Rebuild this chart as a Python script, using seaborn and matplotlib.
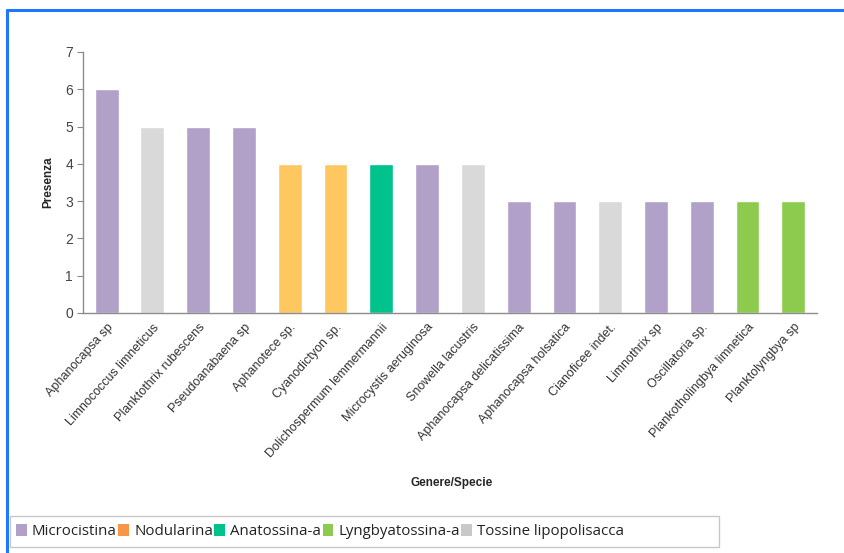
import pandas as pd
import matplotlib.pyplot as plt
import seaborn as sns
from matplotlib.patches import Patch, Rectangle
from matplotlib.lines import Line2D

# Dati
specie = ['Aphanocapsa sp', 'Limnococcus limneticus', 'Planktothrix rubescens',
          'Pseudoanabaena sp', 'Aphanotece sp.', 'Cyanodictyon sp.',
          'Dolichospermum lemmermannii', 'Microcystis aeruginosa', 'Snowella lacustris',
          'Aphanocapsa delicatissima', 'Aphanocapsa holsatica', 'Cianoficee indet.',
          'Limnothrix sp', 'Oscillatoria sp.', 'Plankotholingbya limnetica',
          'Planktolyngbya sp']
presenza = [6, 5, 5, 5, 4, 4, 4, 4, 4, 3, 3, 3, 3, 3, 3, 3]
tossina = ['Microcistina', 'Tossine lipopolisacca', 'Microcistina', 'Microcistina',
           'Nodularina', 'Nodularina', 'Anatossina-a', 'Microcistina',
           'Tossine lipopolisacca', 'Microcistina', 'Microcistina',
           'Tossine lipopolisacca', 'Microcistina', 'Microcistina',
           'Lyngbyatossina-a', 'Lyngbyatossina-a']
legenda = ['Microcistina', 'Nodularina', 'Anatossina-a', 'Lyngbyatossina-a',
           'Tossine lipopolisacca']

colori_barre = {'Microcistina': '#B1A0C7', 'Nodularina': '#FFC75F',
                'Anatossina-a': '#00C28C', 'Lyngbyatossina-a': '#8DCB4E',
                'Tossine lipopolisacca': '#D9D9D9'}
colori_legenda = {'Microcistina': '#B1A0C7', 'Nodularina': '#F79646',
                  'Anatossina-a': '#00C28C', 'Lyngbyatossina-a': '#8DCB4E',
                  'Tossine lipopolisacca': '#C8C8C8'}

df = pd.DataFrame({'Specie': specie, 'Presenza': presenza, 'Tossina': tossina})

sns.set_style('white')
plt.rcParams['font.family'] = ['Liberation Sans', 'DejaVu Sans']

fig = plt.figure(figsize=(8.45, 5.53), dpi=100)
ax = fig.add_axes([0.098, 0.434, 0.869, 0.472])

sns.barplot(data=df, x='Specie', y='Presenza', hue='Tossina', palette=colori_barre,
            dodge=False, width=0.52, legend=False, ax=ax, saturation=1)

ax.set_ylim(0, 7)
ax.set_yticks(range(0, 8))
ax.set_xlim(-0.52, len(specie) - 0.48)
ax.tick_params(axis='y', labelsize=10, labelcolor='#444444', length=4,
               color='#888888', direction='out', left=True, pad=3)
ax.tick_params(axis='x', length=0, pad=6)
ax.set_xticks(range(len(specie)))
ax.set_xticklabels(specie, rotation=48, ha='right', rotation_mode='anchor',
                   fontsize=9, color='#333333')
for s in ['top', 'right']:
    ax.spines[s].set_visible(False)
for s in ['left', 'bottom']:
    ax.spines[s].set_color('#8C8C8C')
    ax.spines[s].set_linewidth(1)

ax.set_ylabel('Presenza', fontsize=8.5, fontweight='bold', labelpad=8)
ax.set_xlabel('')
fig.text(0.535, 0.127, 'Genere/Specie', fontsize=8.5, fontweight='bold',
         ha='center', va='center')

# Cornice blu
fig.add_artist(Line2D([0.008, 0.008], [0, 0.982], color='#1E78FF', lw=2.2))
fig.add_artist(Line2D([0.008, 1.0], [0.982, 0.982], color='#1E78FF', lw=2.2))

# Riquadro legenda
fig.add_artist(Rectangle((10 / 845, 6 / 553), 709 / 845, 31 / 553,
                         transform=fig.transFigure, facecolor='white',
                         edgecolor='#C8C8C8', lw=1))

# Legenda
maniglie = [Patch(facecolor=colori_legenda[t], edgecolor='none') for t in legenda]
leg = fig.legend(maniglie, legenda, loc='center left', bbox_to_anchor=(0.012, 0.0385),
                 ncol=5, frameon=False, handlelength=0.7, handleheight=0.8,
                 handletextpad=0.35, columnspacing=0.1, borderaxespad=0,
                 prop={'family': 'Open Sans', 'size': 10.8})
for t in leg.get_texts():
    t.set_color('#222222')

fig.savefig('out.png', dpi=100)
